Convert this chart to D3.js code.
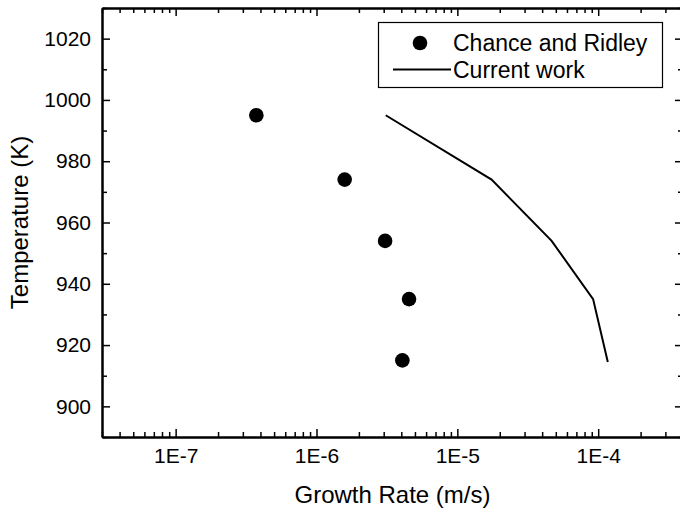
<!DOCTYPE html>
<html>
<head>
<meta charset="utf-8">
<script src="https://cdn.jsdelivr.net/npm/d3@7"></script>
<style>
  body { margin: 0; background: #fff; }
  text { font-family: "Liberation Sans", Arial, sans-serif; fill: #000; }
</style>
</head>
<body>
<script>
// Chance and Ridley (dots)
var chanceRate = [3.74e-7, 1.585e-6, 3.07e-6, 4.54e-6, 4.07e-6];
var chanceTemp = [995, 974, 954, 935, 915];

// Current work (line)
var workRate = [3.1e-6, 1.75e-5, 4.67e-5, 9.2e-5, 1.17e-4];
var workTemp = [995, 974, 954, 935, 914.5];

var xMajor = [1e-7, 1e-6, 1e-5, 1e-4];
var yMajor = [900, 920, 940, 960, 980, 1000, 1020];

var w = 680, h = 513;
var mLeft = 102, mRight = 683, mTop = 8, mBottom = 437;

var svg = d3.select("body").append("svg")
    .attr("width", w)
    .attr("height", h);

var x = d3.scaleLog().domain([3e-8, 4e-4]).range([mLeft, mRight]);
var y = d3.scaleLinear().domain([890, 1030]).range([mBottom, mTop]);

// minor ticks: 2..9 of each decade / every 10 K
var xMinor = [];
for (var e = -8; e <= -4; e++) {
    for (var m = 2; m <= 9; m++) {
        var v = m * Math.pow(10, e);
        if (v >= 3e-8 && v <= 4e-4) xMinor.push(v);
    }
}
var yMinor = d3.range(890, 1031, 10).filter(d => d % 20 != 0);

var fmt = d => "1E" + Math.round(Math.log10(d));

// bottom
svg.append("g").attr("transform", "translate(0," + mBottom + ")")
    .call(d3.axisBottom(x).tickValues(xMinor).tickSizeInner(-5).tickSizeOuter(0).tickFormat(""));
svg.append("g").attr("class", "lab").attr("transform", "translate(0," + mBottom + ")")
    .call(d3.axisBottom(x).tickValues(xMajor).tickSizeInner(-8).tickSizeOuter(0).tickPadding(11).tickFormat(fmt));
// top
svg.append("g").attr("transform", "translate(0," + mTop + ")")
    .call(d3.axisTop(x).tickValues(xMinor).tickSizeInner(-5).tickSizeOuter(0).tickFormat(""));
svg.append("g").attr("transform", "translate(0," + mTop + ")")
    .call(d3.axisTop(x).tickValues(xMajor).tickSizeInner(-8).tickSizeOuter(0).tickFormat(""));
// left
svg.append("g").attr("transform", "translate(" + mLeft + ",0)")
    .call(d3.axisLeft(y).tickValues(yMinor).tickSizeInner(-5).tickSizeOuter(0).tickFormat(""));
svg.append("g").attr("class", "lab").attr("transform", "translate(" + mLeft + ",0)")
    .call(d3.axisLeft(y).tickValues(yMajor).tickSizeInner(-8).tickSizeOuter(0).tickPadding(11).tickFormat(d3.format("d")));
// right
svg.append("g").attr("transform", "translate(" + mRight + ",0)")
    .call(d3.axisRight(y).tickValues(yMinor).tickSizeInner(-5).tickSizeOuter(0).tickFormat(""));
svg.append("g").attr("transform", "translate(" + mRight + ",0)")
    .call(d3.axisRight(y).tickValues(yMajor).tickSizeInner(-8).tickSizeOuter(0).tickFormat(""));

svg.selectAll(".domain").attr("stroke", "#000").attr("stroke-width", 2);
svg.selectAll(".tick line").attr("stroke", "#000").attr("stroke-width", 1.5);
svg.selectAll(".lab text").attr("font-size", 21).attr("font-family", "Liberation Sans, Arial, sans-serif");

// axis titles
svg.append("text")
    .attr("x", (mLeft + mRight) / 2).attr("y", 503)
    .attr("text-anchor", "middle")
    .attr("font-size", 24)
    .text("Growth Rate (m/s)");
svg.append("text")
    .attr("transform", "translate(28," + ((mTop + mBottom) / 2) + ") rotate(-90)")
    .attr("text-anchor", "middle")
    .attr("font-size", 24)
    .text("Temperature (K)");

// current work line
var lineData = workRate.map((r, i) => [r, workTemp[i]]);
svg.append("path")
    .datum(lineData)
    .attr("fill", "none")
    .attr("stroke", "#000")
    .attr("stroke-width", 2)
    .attr("d", d3.line().x(d => x(d[0])).y(d => y(d[1])));

// Chance and Ridley dots
svg.selectAll("circle.pt")
    .data(chanceRate.map((r, i) => [r, chanceTemp[i]]))
    .enter().append("circle")
    .attr("class", "pt")
    .attr("cx", d => x(d[0]))
    .attr("cy", d => y(d[1]))
    .attr("r", 7.3)
    .attr("fill", "#000");

// legend
var lg = svg.append("g");
lg.append("rect")
    .attr("x", 378.5).attr("y", 22.5)
    .attr("width", 284).attr("height", 65)
    .attr("fill", "#fff").attr("stroke", "#000").attr("stroke-width", 1.2);
lg.append("circle").attr("cx", 420).attr("cy", 43).attr("r", 7.3).attr("fill", "#000");
lg.append("line").attr("x1", 393).attr("x2", 451).attr("y1", 69.5).attr("y2", 69.5)
    .attr("stroke", "#000").attr("stroke-width", 2);
lg.append("text").attr("x", 453).attr("y", 51).attr("font-size", 23).text("Chance and Ridley");
lg.append("text").attr("x", 453).attr("y", 78).attr("font-size", 23).text("Current work");
</script>
</body>
</html>
